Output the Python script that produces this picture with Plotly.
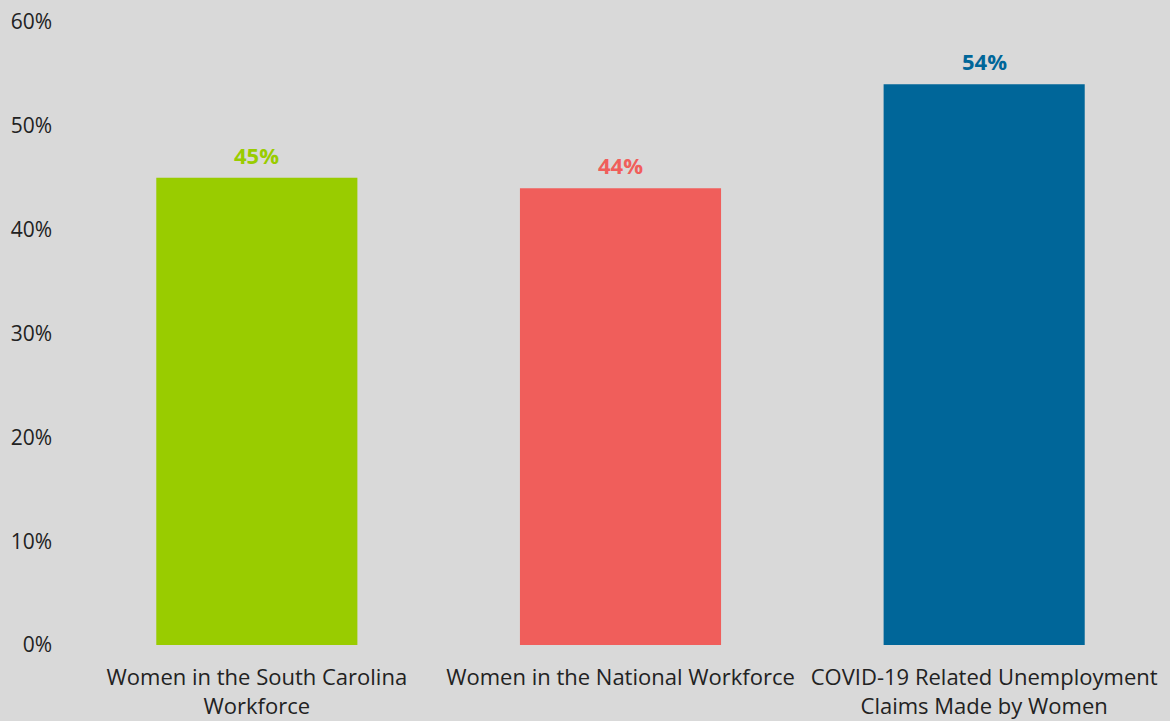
import plotly.graph_objects as go

categories = ["Women in the South Carolina<br>Workforce",
              "Women in the National Workforce",
              "COVID-19 Related Unemployment<br>Claims Made by Women"]
values = [0.45, 0.44, 0.54]
labels = ["45%", "44%", "54%"]
colors = ["#99cc00", "#f05e5b", "#006699"]
tick_vals = [0, 0.1, 0.2, 0.3, 0.4, 0.5, 0.6]
tick_text = ["0%", "10%", "20%", "30%", "40%", "50%", "60%"]

fig = go.Figure(go.Bar(x=categories, y=values, marker=dict(color=colors, line_width=0),
                       hoverinfo="skip"))

for c, v, t, col in zip(categories, values, labels, colors):
    fig.add_annotation(x=c, y=v, text=f"<b>{t}</b>", showarrow=False, yanchor="bottom",
                       yshift=6, font=dict(family="Open Sans", size=22, color=col))

fig.update_layout(
    width=1170, height=721,
    paper_bgcolor="#d9d9d9", plot_bgcolor="#d9d9d9",
    margin=dict(l=75, r=4, t=22, b=76, autoexpand=False),
    bargap=0.447,
    font=dict(family="Open Sans", size=22, color="#222222"),
    showlegend=False,
    xaxis=dict(showgrid=False, showline=False, zeroline=False, ticks="", automargin=False,
               ticklabelstandoff=17, tickfont=dict(size=22)),
    yaxis=dict(range=[0, 0.6], tickvals=tick_vals, ticktext=tick_text, showgrid=False,
               showline=False, zeroline=False, ticks="", ticklabelstandoff=22, automargin=False,
               tickfont=dict(size=21)),
)

fig.write_html("out.html", config={"displayModeBar": False},
               post_script="document.body.style.margin='0';document.body.style.overflow='hidden';"
                           "document.body.style.background='#d9d9d9';window.scrollTo(0,0);")
